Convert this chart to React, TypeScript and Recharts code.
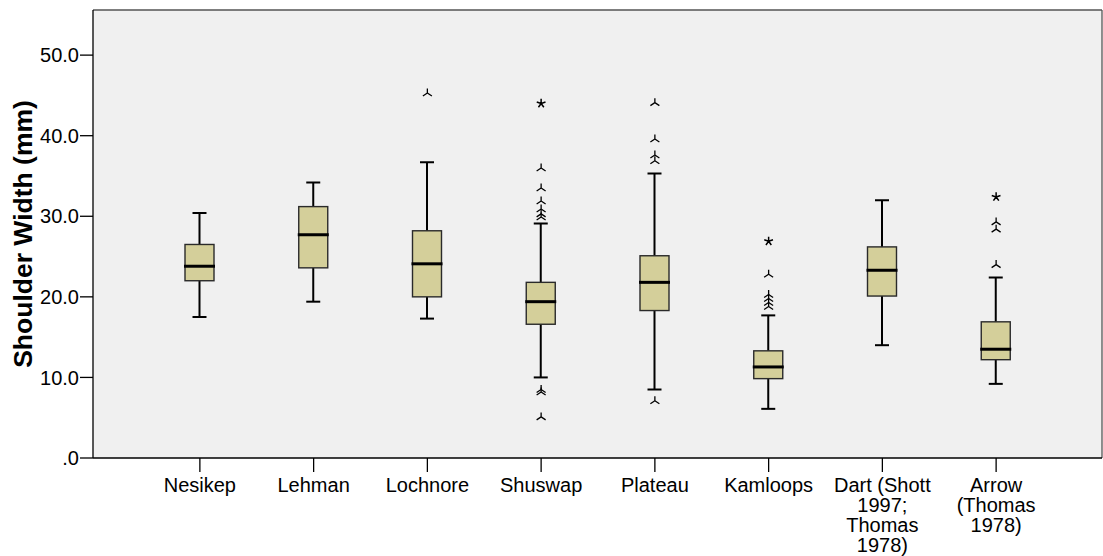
import React from 'react';
import {
  ComposedChart,
  Bar,
  Scatter,
  XAxis,
  YAxis,
  CartesianGrid,
} from 'recharts';

// Shoulder width by point type: five-number summaries and flagged cases
const categories = ['Nesikep', 'Lehman', 'Lochnore', 'Shuswap', 'Plateau', 'Kamloops', 'Dart', 'Arrow'];
const tickLabels: string[][] = [
  ['Nesikep'],
  ['Lehman'],
  ['Lochnore'],
  ['Shuswap'],
  ['Plateau'],
  ['Kamloops'],
  ['Dart (Shott', '1997;', 'Thomas', '1978)'],
  ['Arrow', '(Thomas', '1978)'],
];
const whiskerLow = [17.5, 19.4, 17.3, 10.0, 8.5, 6.1, 14.0, 9.2];
const quartile1 = [22.0, 23.6, 20.0, 16.6, 18.3, 9.85, 20.1, 12.2];
const medians = [23.8, 27.7, 24.1, 19.4, 21.8, 11.3, 23.3, 13.5];
const quartile3 = [26.5, 31.2, 28.2, 21.8, 25.1, 13.3, 26.2, 16.9];
const whiskerHigh = [30.4, 34.2, 36.7, 29.1, 35.3, 17.7, 32.0, 22.4];

// outliers ("o") and extreme values ("*")
const outlierCategory = [
  'Lochnore',
  'Shuswap', 'Shuswap', 'Shuswap', 'Shuswap', 'Shuswap', 'Shuswap', 'Shuswap', 'Shuswap', 'Shuswap', 'Shuswap',
  'Plateau', 'Plateau', 'Plateau', 'Plateau', 'Plateau',
  'Kamloops', 'Kamloops', 'Kamloops', 'Kamloops', 'Kamloops', 'Kamloops',
  'Arrow', 'Arrow', 'Arrow', 'Arrow',
];
const outlierValue = [
  45.3,
  44.0, 36.0, 33.5, 31.9, 30.9, 30.3, 29.9, 8.5, 8.2, 5.1,
  44.1, 39.6, 37.6, 36.9, 7.1,
  26.9, 22.8, 20.3, 19.8, 19.3, 18.8,
  32.4, 29.3, 28.4, 24.0,
];
const outlierKind = [
  'o',
  '*', 'o', 'o', 'o', 'o', 'o', 'o', 'o', 'o', 'o',
  'o', 'o', 'o', 'o', 'o',
  '*', 'o', 'o', 'o', 'o', 'o',
  '*', 'o', 'o', 'o',
];

const yTicks = [0, 10, 20, 30, 40, 50];
const yMax = 55.6;

const FONT = '"Liberation Sans", Arial, Helvetica, sans-serif';
const BOX_FILL = '#d4cf9a';

const boxData = categories.map((name, i) => ({
  name,
  range: [whiskerLow[i], whiskerHigh[i]],
  lo: whiskerLow[i],
  q1: quartile1[i],
  med: medians[i],
  q3: quartile3[i],
  hi: whiskerHigh[i],
}));

const outlierData = outlierValue.map((value, i) => ({
  name: outlierCategory[i],
  value,
  kind: outlierKind[i],
}));

function BoxShape(props: any) {
  const { x, y, width, height, payload } = props;
  if (payload == null || x == null) return null;
  const top = Math.min(y, y + height);
  const bottom = Math.max(y, y + height);
  const { lo, q1, med, q3, hi } = payload;
  const py = (v: number) => top + ((bottom - top) * (hi - v)) / (hi - lo);
  const cx = x + width / 2;
  const capHalf = 7;
  const yQ3 = py(q3);
  const yQ1 = py(q1);
  const yMed = py(med);
  return (
    <g>
      <line x1={cx} x2={cx} y1={top} y2={yQ3} stroke="#000" strokeWidth={2} />
      <line x1={cx} x2={cx} y1={yQ1} y2={bottom} stroke="#000" strokeWidth={2} />
      <line x1={cx - capHalf} x2={cx + capHalf} y1={top} y2={top} stroke="#000" strokeWidth={2} />
      <line x1={cx - capHalf} x2={cx + capHalf} y1={bottom} y2={bottom} stroke="#000" strokeWidth={2} />
      <rect x={x} y={yQ3} width={width} height={yQ1 - yQ3} fill={BOX_FILL} stroke="#2a2a2a" strokeWidth={1.4} />
      <line x1={x - 1} x2={x + width + 1} y1={yMed} y2={yMed} stroke="#000" strokeWidth={3} />
    </g>
  );
}

function OutlierShape(props: any) {
  const { cx, cy, payload } = props;
  if (cx == null || cy == null) return null;
  if (payload && payload.kind === '*') {
    const r = 4.6;
    const arms = [-90, -18, 54, 126, 198].map((deg) => {
      const a = (deg * Math.PI) / 180;
      return `M${cx},${cy}L${cx + r * Math.cos(a)},${cy + r * Math.sin(a)}`;
    });
    return <path d={arms.join('')} stroke="#000" strokeWidth={1.5} fill="none" />;
  }
  const d = `M${cx},${cy - 4.5}L${cx},${cy}M${cx},${cy}L${cx - 4.5},${cy + 3}M${cx},${cy}L${cx + 4.5},${cy + 3}`;
  return <path d={d} stroke="#000" strokeWidth={1.3} fill="none" />;
}

function CategoryTick(props: any) {
  const { x, y, payload } = props;
  const idx = categories.indexOf(payload.value);
  const lines = idx >= 0 ? tickLabels[idx] : [String(payload.value)];
  return (
    <text x={x} y={y} textAnchor="middle" fontFamily={FONT} fontSize={20} fill="#000">
      {lines.map((ln, i) => (
        <tspan key={i} x={x} dy={i === 0 ? '0.71em' : 19.8}>
          {ln}
        </tspan>
      ))}
    </text>
  );
}

function YTitle(props: any) {
  const { viewBox } = props;
  const x = viewBox.x + 32;
  const y = viewBox.y + viewBox.height / 2;
  return (
    <text
      x={x}
      y={y}
      transform={`rotate(-90, ${x}, ${y})`}
      textAnchor="middle"
      fontFamily={FONT}
      fontSize={26.5}
      fontWeight="bold"
      fill="#000"
    >
      Shoulder Width (mm)
    </text>
  );
}

const formatY = (v: number) => (v === 0 ? '.0' : v.toFixed(1));

// frame lines on the top and right edges of the plot area
const topEdge = (p: any) => [p.offset.top];
const rightEdge = (p: any) => [p.offset.left + p.offset.width];

export default function App() {
  return (
    <div style={{ position: 'absolute', left: 0, top: 0, background: '#fff' }}>
      <ComposedChart
        width={1103}
        height={556}
        data={boxData}
        margin={{ top: 10, right: 1, bottom: 0, left: 0 }}
      >
        <CartesianGrid
          fill="#f0f0f0"
          stroke="#555"
          strokeWidth={1.3}
          horizontalCoordinatesGenerator={topEdge}
          verticalCoordinatesGenerator={rightEdge}
        />
        <XAxis
          dataKey="name"
          type="category"
          allowDuplicatedCategory={false}
          height={98}
          padding={{ left: 50, right: 49 }}
          tickSize={14}
          tickMargin={6}
          tick={<CategoryTick />}
          tickLine={{ stroke: '#000', strokeWidth: 1.3 }}
          axisLine={{ stroke: '#000', strokeWidth: 1.3 }}
          interval={0}
        />
        <YAxis
          type="number"
          domain={[0, yMax]}
          ticks={yTicks}
          allowDataOverflow
          width={93}
          tickSize={13}
          tickMargin={1}
          tickFormatter={formatY}
          tick={{ fontFamily: FONT, fontSize: 20, fill: '#000' }}
          tickLine={{ stroke: '#000', strokeWidth: 1.3 }}
          axisLine={{ stroke: '#000', strokeWidth: 1.3 }}
          label={<YTitle />}
        />
        <Bar dataKey="range" barSize={29} shape={<BoxShape />} isAnimationActive={false} />
        <Scatter data={outlierData} dataKey="value" shape={<OutlierShape />} isAnimationActive={false} />
      </ComposedChart>
    </div>
  );
}
